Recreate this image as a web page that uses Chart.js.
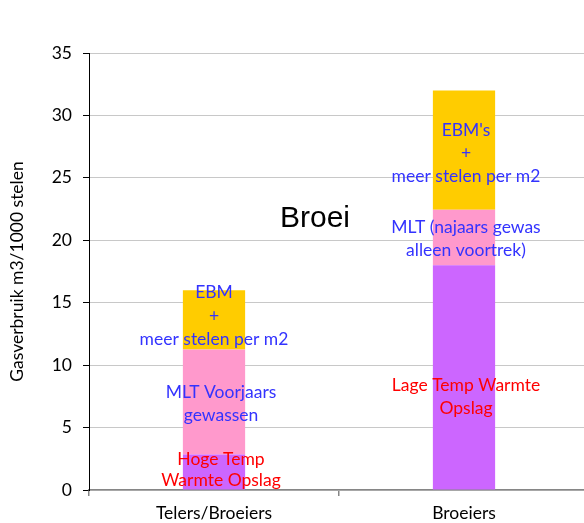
<!DOCTYPE html>
<html lang="nl">
<head>
<meta charset="UTF-8">
<title>Gasverbruik Broei</title>
<script src="https://cdn.jsdelivr.net/npm/chart.js"></script>
<style>
  html, body { margin: 0; padding: 0; background: #fff; overflow: hidden; }
  #wrap { position: relative; width: 590px; height: 523px; }
</style>
</head>
<body>
<div id="wrap"><canvas id="chart"></canvas></div>
<script>
  // values (m3 per 1000 stelen)
  const categories = ['Telers/Broeiers', 'Broeiers'];
  const warmteOpslag = [2.85, 18.0];
  const mltTeelt = [8.4, 4.45];
  const ebmStelen = [4.75, 9.55];
  const yTicks = [0, 5, 10, 15, 20, 25, 30, 35];

  const FONT = 'Lato, "Open Sans", sans-serif';
  const BLUE = '#3333FF';
  const RED = '#FF0000';

  // text inside the bars: category (fractional index), y value of first line, gap in px
  const notes = [
    { at: 0.0,   y: 15.8,  gap: 23.5, color: BLUE, lines: ['EBM', '+', 'meer stelen per m2'] },
    { at: 0.028, y: 7.86,  gap: 23.3, color: BLUE, lines: ['MLT Voorjaars', 'gewassen'] },
    { at: 0.028, y: 2.46,  gap: 21,   color: RED,  lines: ['Hoge Temp', 'Warmte Opslag'] },
    { at: 1.008, y: 28.84, gap: 23.3, color: BLUE, lines: ["EBM's", '+', 'meer stelen per m2'] },
    { at: 1.008, y: 21.07, gap: 23.6, color: BLUE, lines: ['MLT (najaars gewas', 'alleen voortrek)'] },
    { at: 1.008, y: 8.4,   gap: 23,   color: RED,  lines: ['Lage Temp Warmte', 'Opslag'] }
  ];

  const textPlugin = {
    id: 'barText',
    afterDatasetsDraw(chart) {
      const { ctx, scales: { x, y } } = chart;
      ctx.save();
      ctx.textAlign = 'center';
      ctx.textBaseline = 'middle';
      ctx.font = '17.5px ' + FONT;
      notes.forEach(n => {
        const px = x.getPixelForValue(n.at);
        const py = y.getPixelForValue(n.y);
        ctx.fillStyle = n.color;
        n.lines.forEach((line, i) => ctx.fillText(line, px, py + i * n.gap));
      });
      // big title in the middle
      ctx.fillStyle = '#000';
      ctx.textBaseline = 'alphabetic';
      ctx.font = '30px "Liberation Sans", Arial, sans-serif';
      ctx.fillText('Broei', x.getPixelForValue(0.404), y.getPixelForValue(21.03));
      ctx.restore();
    }
  };

  new Chart(document.getElementById('chart'), {
    type: 'bar',
    data: {
      labels: categories,
      datasets: [
        { label: 'Warmte Opslag', data: warmteOpslag, backgroundColor: '#CC66FF' },
        { label: 'MLT', data: mltTeelt, backgroundColor: '#FF99CC' },
        { label: 'EBM + meer stelen per m2', data: ebmStelen, backgroundColor: '#FFCC00' }
      ]
    },
    options: {
      responsive: true,
      maintainAspectRatio: false,
      animation: false,
      categoryPercentage: 1,
      barPercentage: 0.249,
      layout: { padding: { top: 53, right: 1, left: 0, bottom: 0 } },
      plugins: { legend: { display: false }, tooltip: { enabled: false } },
      scales: {
        x: {
          stacked: true,
          grid: { display: true, drawOnChartArea: false, offset: true, tickLength: 6, tickColor: '#868686', lineWidth: 1.5 },
          border: { color: '#868686', width: 1.5 },
          ticks: { color: '#000', padding: 7, font: { family: FONT, size: 17.5 } },
          afterFit: s => { s.height = 33; }
        },
        y: {
          stacked: true,
          min: 0,
          max: 35,
          afterBuildTicks: s => { s.ticks = yTicks.map(v => ({ value: v })); },
          ticks: { color: '#000', padding: 11, font: { family: FONT, size: 17.5 } },
          grid: { color: '#C8C8C8', tickColor: '#000', tickLength: 6 },
          border: { color: '#000' },
          title: {
            display: true,
            text: 'Gasverbruik m3/1000 stelen',
            color: '#000',
            padding: { top: 7 },
            font: { family: FONT, size: 17.5 }
          },
          afterFit: s => { s.width = 89; }
        }
      }
    },
    plugins: [textPlugin]
  });
</script>
</body>
</html>
